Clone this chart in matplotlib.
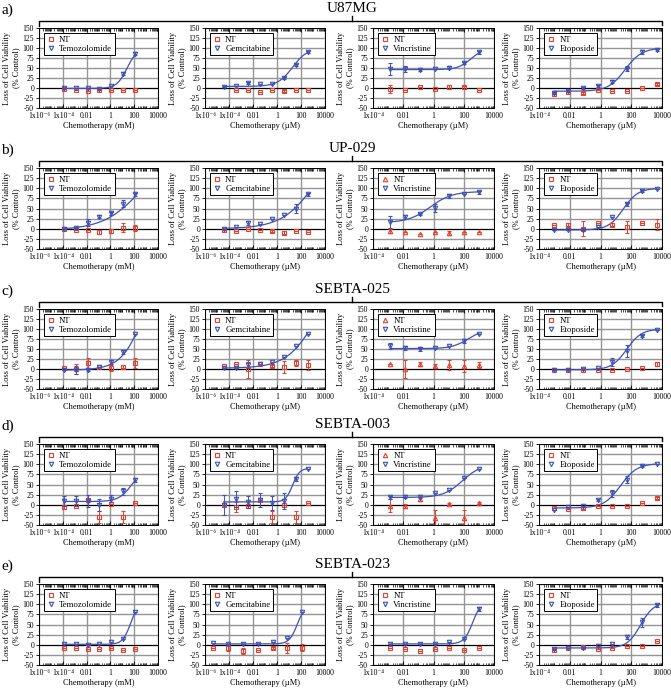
import numpy as np
import matplotlib
matplotlib.use("Agg")
import matplotlib.pyplot as plt
import matplotlib.lines as mlines
from matplotlib.ticker import FixedLocator, FixedFormatter, LogLocator, NullFormatter

plt.rcParams['font.family'] = ['Liberation Serif', 'DejaVu Serif']
plt.rcParams['axes.unicode_minus'] = False

# concentrations per drug
tmz_x = [1.2e-4, 1.2e-3, 0.012, 0.12, 1.2, 12, 120]
gem_x = [3.5e-5, 3.5e-4, 3.5e-3, 0.035, 0.35, 3.5, 35, 350]
gem_x_e = [5e-6, 9e-5, 1.5e-3, 0.028, 0.49, 7.2, 115]
vin_x = [0.0014, 0.013, 0.12, 1.2, 11, 100, 1000]
eto_x = [0.001, 0.008, 0.07, 0.65, 5.8, 54, 490, 4400]

drugs = ["Temozolomide", "Gemcitabine", "Vincristine", "Etoposide"]
units = ["mM", "\u00b5M", "\u00b5M", "\u00b5M"]
cell_lines = ["U87MG", "UP-029", "SEBTA-025", "SEBTA-003", "SEBTA-023"]
row_letters = ["a)", "b)", "c)", "d)", "e)"]

nan = np.nan

# U87MG
u87_drug = [[0, 1, 0, -3, 5, 36, 86],
            [3, 4, 13, 10, 10, 25, 57, 90],
            [47, 47, 46, 48, 51, 63, 89],
            [-12, -8, 0, 5, 16, 48, 90, 95]]
u87_drug_err = [[0, 0, 0, 0, 0, 3, 3],
                [0, 0, 3, 0, 0, 3, 3, 3],
                [15, 8, 3, 0, 3, 3, 3],
                [3, 3, 3, 3, 4, 6, 4, 3]]
u87_nt = [[-3, -6, -8, -5, -5, -4, -6],
          [nan, -4, -5, -10, -4, -8, -4, -5],
          [-2, -4, 3, -3, 2, 2, -5],
          [-15, -10, -12, -5, -8, -8, 0, 10]]
u87_nt_err = [[0, 0, 0, 0, 0, 0, 0],
              [0, 0, 0, 0, 0, 3, 0, 0],
              [10, 0, 0, 0, 5, 4, 0],
              [0, 0, 3, 0, 0, 0, 0, 3]]
u87_fit = [[-1, 100, 25, 1.0], [4, 100, 20, 0.7], [46, 100, 300, 1.0], [-8, 100, 40, 0.8]]

# UP-029
up029_drug = [[0, 3, 15, 30, 38, 62, 85],
              [0, 5, 15, 12, 25, 33, 50, 85],
              [17, 28, 37, 52, 80, 87, 90],
              [-2, -3, -2, 5, 28, 60, 93, 97]]
up029_drug_err = [[0, 0, 8, 3, 3, 8, 3],
                  [0, 0, 5, 0, 0, 0, 10, 3],
                  [15, 5, 3, 10, 5, 0, 3],
                  [0, 0, 0, 0, 0, 3, 3, 0]]
up029_nt = [[0, -3, -2, -8, -5, 3, 2],
            [-3, -5, 0, -2, -5, -10, -5, -7],
            [-5, -8, -12, -7, -10, -7, -7],
            [10, 10, 0, 14, 10, 5, 14, 10]]
up029_nt_err = [[0, 0, 0, 5, 5, 10, 7],
                [0, 0, 0, 0, 3, 4, 0, 0],
                [5, 0, 0, 0, 5, 0, 0],
                [0, 3, 18, 0, 4, 15, 0, 13]]
up029_fit = [[-3, 200, 500, 0.27], [0, 250, 3000, 0.3], [15, 92, 0.6, 0.6], [-3, 100, 30, 0.9]]

# SEBTA-025
s025_drug = [[-2, -2, -3, 5, 18, 42, 87],
             [2, 3, 10, 13, 18, 30, 57, 88],
             [57, 52, 50, 53, 57, 70, 88],
             [-2, -2, -1, 2, 18, 45, 82, 97]]
s025_drug_err = [[0, 10, 3, 0, 5, 5, 0],
                 [0, 0, 8, 0, 0, 0, 0, 0],
                 [8, 5, 5, 0, 0, 6, 0],
                 [0, 0, 0, 0, 10, 15, 3, 0]]
s025_nt = [[2, 0, 15, 5, 3, 6, 15],
           [8, 12, 0, 13, 8, 5, 15, 10],
           [12, 0, 13, 8, 10, 8, 10],
           [-3, -2, -3, -2, -2, 0, 3, 12]]
s025_nt_err = [[0, 12, 12, 0, 8, 4, 12],
               [0, 0, 22, 0, 3, 15, 8, 12],
               [0, 22, 5, 5, 12, 15, 7],
               [0, 0, 0, 0, 0, 0, 0, 5]]
s025_fit = [[-3, 400, 2500, 0.42], [2, 250, 2000, 0.35], [51, 100, 200, 0.8], [-2, 100, 50, 0.9]]

# SEBTA-003
s003_drug = [[10, 10, 10, 0, 15, 33, 62],
             [0, 14, 6, 12, 4, 10, 64, 88],
             [18, 20, 20, 30, 37, 65, 88],
             [-13, -5, -3, 12, 28, 62, 95, 100]]
s003_drug_err = [[12, 12, 15, 15, 8, 8, 5],
                 [25, 20, 15, 18, 18, 20, 5, 0],
                 [3, 3, 3, 0, 0, 0, 0],
                 [0, 0, 0, 3, 8, 8, 3, 0]]
s003_nt = [[-5, -2, 12, -30, 2, -30, 5],
           [0, -5, -2, 12, -30, 0, -30, 5],
           [-2, -2, 15, -32, 2, -32, 5],
           [-8, -10, -8, -2, -2, -2, 5, 17]]
s003_nt_err = [[5, 0, 0, 15, 0, 15, 0],
               [0, 12, 0, 0, 15, 0, 15, 0],
               [15, 5, 5, 20, 3, 20, 3],
               [0, 0, 3, 0, 0, 0, 0, 3]]
s003_fit = [[8, 90, 60, 0.8], [7, 90, 20, 1.5], [18, 100, 80, 0.7], [-8, 102, 20, 0.8]]

# SEBTA-023
s023_drug = [[2, 2, 0, 2, 7, 15, 80],
             [4, 2, 2, 2, 6, 16, 80],
             [2, 2, 2, 2, 7, 15, 88],
             [-10, -8, -8, -3, 3, 18, 55, 97]]
s023_drug_err = [[0, 0, 0, 0, 0, 0, 0],
                 [0, 0, 0, 0, 0, 0, 0],
                 [0, 0, 0, 0, 0, 0, 5],
                 [0, 0, 0, 0, 0, 5, 12, 3]]
s023_nt = [[-8, -7, -10, -10, -7, -12, -10],
           [-7, -8, -15, -12, -8, -8, -7],
           [-8, -10, -15, -10, -8, -12, -7],
           [-12, -8, -5, -10, -8, -3, -2, 10]]
s023_nt_err = [[0, 0, 0, 0, 0, 0, 0],
               [0, 8, 8, 0, 3, 12, 8],
               [0, 0, 0, 0, 0, 0, 0],
               [0, 0, 0, 0, 0, 0, 0, 0]]
s023_fit = [[1, 105, 50, 1.3], [2, 100, 50, 1.3], [2, 110, 400, 1.5], [-8, 105, 400, 1.0]]

rows = [
    (u87_drug, u87_drug_err, u87_nt, u87_nt_err, u87_fit, [tmz_x, gem_x, vin_x, eto_x]),
    (up029_drug, up029_drug_err, up029_nt, up029_nt_err, up029_fit, [tmz_x, gem_x, vin_x, eto_x]),
    (s025_drug, s025_drug_err, s025_nt, s025_nt_err, s025_fit, [tmz_x, gem_x, vin_x, eto_x]),
    (s003_drug, s003_drug_err, s003_nt, s003_nt_err, s003_fit, [tmz_x, gem_x, vin_x, eto_x]),
    (s023_drug, s023_drug_err, s023_nt, s023_nt_err, s023_fit, [tmz_x, gem_x_e, vin_x, eto_x]),
]
# NT drawn with triangles for vincristine in these lines
tri_nt = ["UP-029", "SEBTA-025", "SEBTA-003"]

RED = "#e2412f"
BLUE = "#3f51b5"
W, H = 671, 692
col_px = [(39, 158), (205, 325), (373, 494), (539, 662)]
row_px = [(28, 108), (168, 249), (309, 389), (444, 525), (584, 665)]


def add_ax(fig, l, t, r, b):
    return fig.add_axes([l / W, 1 - b / H, (r - l) / W, (b - t) / H])


def four_pl(x, p):
    b, t, ec50, h = p
    return b + (t - b) / (1 + (ec50 / x) ** h)


def style_axis(ax, wide, unit):
    ax.set_xscale("log")
    if wide:
        ax.set_xlim(1e-6, 1e4)
        ticks = [1e-6, 1e-4, 1e-2, 1, 1e2, 1e4]
        labels = ["1x10\u207b\u2076", "1x10\u207b\u2074", "0.01", "1", "100", "10000"]
    else:
        ax.set_xlim(1e-4, 1e4)
        ticks = [1e-4, 1e-2, 1, 1e2, 1e4]
        labels = ["1x10\u207b\u2074", "0.01", "1", "100", "10000"]
    ax.xaxis.set_major_locator(FixedLocator(ticks))
    ax.xaxis.set_major_formatter(FixedFormatter(labels))
    ax.xaxis.set_minor_locator(LogLocator(base=10, subs=np.arange(1, 10), numticks=100))
    ax.xaxis.set_minor_formatter(NullFormatter())
    ax.set_ylim(-50, 150)
    ax.set_yticks(np.arange(-50, 151, 25))
    ax.tick_params(axis="x", which="both", direction="in", top=True, bottom=True,
                   labelsize=5.5, pad=3)
    ax.tick_params(axis="x", which="major", length=3, width=0.6)
    ax.tick_params(axis="x", which="minor", length=1.8, width=0.5)
    ax.tick_params(axis="y", direction="out", length=2, width=0.6, labelsize=5.5, pad=1.5)
    ax.grid(True, which="major", color="#959595", lw=1.0)
    ax.set_axisbelow(True)
    ax.axhline(0, color="black", lw=0.8, zorder=1)
    for s in ax.spines.values():
        s.set_linewidth(0.7)
    ax.set_xlabel("Chemotherapy (%s)" % unit, fontsize=6, labelpad=1.5)
    ax.set_ylabel("Loss of Cell Viability\n(% Control)", fontsize=6, labelpad=2,
                  linespacing=1.1)


fig = plt.figure(figsize=(W / 100, H / 100), dpi=100)

for i, (drug_y, drug_err, nt_y, nt_err, fits, xs) in enumerate(rows):
    top, bottom = row_px[i]
    for j in range(4):
        l, r = col_px[j]
        ax = add_ax(fig, l, top, r, bottom)
        style_axis(ax, j < 2, units[j])
        x = np.array(xs[j])
        nt_marker = "^" if (j == 2 and cell_lines[i] in tri_nt) else "s"
        ax.errorbar(x, nt_y[j], yerr=nt_err[j], fmt=nt_marker, mfc="none", mec=RED,
                    ecolor=RED, ms=3.2, mew=0.8, elinewidth=0.7, capsize=1.5, zorder=3)
        xx = np.logspace(np.log10(x[0]), np.log10(x[-1]), 200)
        ax.plot(xx, four_pl(xx, fits[j]), color=BLUE, lw=0.9, zorder=3)
        ax.errorbar(x, drug_y[j], yerr=drug_err[j], fmt="v", mfc="none", mec=BLUE,
                    ecolor=BLUE, ms=3.2, mew=0.8, elinewidth=0.7, capsize=1.5, zorder=4)
        h1 = mlines.Line2D([], [], ls="none", marker=nt_marker, mfc="none", mec=RED,
                           ms=3.2, mew=0.8)
        h2 = mlines.Line2D([], [], ls="none", marker="v", mfc="none", mec=BLUE,
                           ms=3.2, mew=0.8)
        leg = ax.legend([h1, h2], ["NT", drugs[j]], loc="upper left",
                        bbox_to_anchor=(0.03, 0.96), fontsize=6.3, frameon=True,
                        fancybox=False, framealpha=1, edgecolor="black",
                        borderpad=0.3, labelspacing=0.1, handlelength=1.0,
                        handletextpad=0.4, borderaxespad=0.2)
        leg.get_frame().set_linewidth(0.7)

    # bracket + title
    yb = top - 7
    x0, x1, xm = col_px[0][0], col_px[3][1], 352
    fig.add_artist(mlines.Line2D([x0 / W, x0 / W, x1 / W, x1 / W],
                                 [1 - (top - 2) / H, 1 - yb / H, 1 - yb / H, 1 - (yb + 4) / H],
                                 color="black", lw=1.0))
    fig.add_artist(mlines.Line2D([xm / W, xm / W], [1 - yb / H, 1 - (yb - 5) / H],
                                 color="black", lw=1.0))
    fig.text(xm / W, 1 - (yb - 12) / H, cell_lines[i], ha="center", va="center",
             fontsize=11)
    fig.text(1 / W, 1 - (yb - 11) / H, row_letters[i], ha="left", va="center",
             fontsize=11)

fig.savefig("out.png", dpi=100)
